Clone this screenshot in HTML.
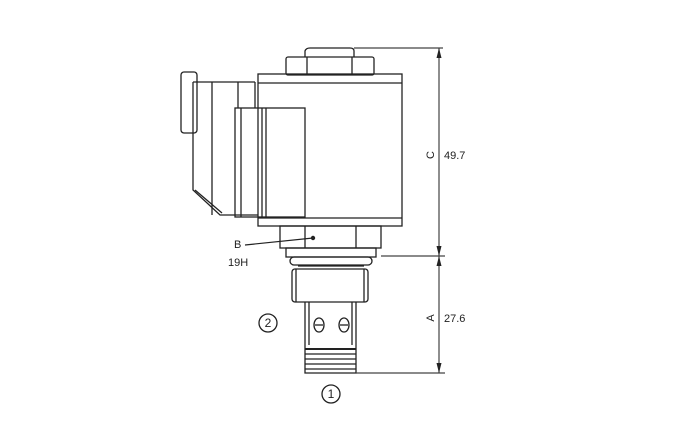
<!DOCTYPE html>
<html><head><style>
html,body{margin:0;padding:0;background:#fff}
svg{display:block}
text{font-family:"Liberation Sans",sans-serif;fill:#222}
</style></head><body>
<svg width="680" height="430" viewBox="0 0 680 430" xmlns="http://www.w3.org/2000/svg">
<g fill="none" stroke="#222" stroke-width="1.3">
<!-- top knob -->
<path d="M305,57 L305,51 Q306,48 310,48 L350,48 Q354,48 354,51 L354,57"/>
<!-- hex nut -->
<rect x="286" y="57" width="88" height="18" rx="2"/>
<line x1="307" y1="57" x2="307" y2="75"/>
<line x1="352" y1="57" x2="352" y2="75"/>
<!-- body -->
<rect x="258" y="74" width="144" height="152"/>
<line x1="258" y1="83" x2="402" y2="83"/>
<line x1="258" y1="218" x2="402" y2="218"/>
<!-- connector tab -->
<rect x="181" y="72" width="16" height="61" rx="3"/>
<!-- connector -->
<path d="M193,82 L255,82 M193,82 L193,190 L220,215 L258,215"/>
<path d="M195,190 L222,213"/>
<line x1="212" y1="82" x2="212" y2="215"/>
<line x1="238" y1="82" x2="238" y2="108"/>
<line x1="255" y1="82" x2="255" y2="108"/>
<rect x="235" y="108" width="70" height="109"/>
<line x1="241" y1="108" x2="241" y2="217"/>
<line x1="262" y1="108" x2="262" y2="217"/>
<line x1="266" y1="108" x2="266" y2="217"/>
<!-- lower nut -->
<rect x="280" y="226" width="101" height="22"/>
<line x1="305" y1="226" x2="305" y2="248"/>
<line x1="356" y1="226" x2="356" y2="248"/>
<rect x="286" y="248" width="90" height="9"/>
<rect x="290" y="257" width="82" height="8" rx="4"/>
<line x1="298" y1="266" x2="364" y2="266"/>
<!-- hex 2 -->
<rect x="292" y="269" width="76" height="33" rx="3"/>
<line x1="296" y1="269" x2="296" y2="302"/>
<line x1="364" y1="269" x2="364" y2="302"/>
<!-- tube -->
<path d="M305,302 L305,373 L356,373 L356,302"/>
<path d="M309,302 L309,345 M352,302 L352,345"/>
<ellipse cx="319" cy="325" rx="5" ry="7"/>
<line x1="315" y1="325" x2="323" y2="325"/>
<ellipse cx="344" cy="325" rx="5" ry="7"/>
<line x1="340" y1="325" x2="348" y2="325"/>
<!-- threads -->
<line x1="305" y1="349" x2="356" y2="349" stroke-width="2"/>
<line x1="305" y1="354" x2="356" y2="354"/>
<line x1="305" y1="359" x2="356" y2="359"/>
<line x1="305" y1="364" x2="356" y2="364"/>
<line x1="305" y1="369" x2="356" y2="369"/>
<!-- circles -->
<circle cx="268" cy="323" r="9"/>
<circle cx="331" cy="394" r="9"/>
</g>
<!-- dimensions -->
<g stroke="#444" stroke-width="1.2" fill="none">
<line x1="354" y1="48" x2="443" y2="48"/>
<line x1="381" y1="256" x2="445" y2="256"/>
<line x1="356" y1="373" x2="445" y2="373"/>
<line x1="439" y1="48" x2="439" y2="373"/>
<line x1="245" y1="245" x2="313" y2="238" stroke="#222"/>
</g>
<g fill="#222">
<path d="M439,48 L436.5,58 L441.5,58Z"/>
<path d="M439,256 L436.5,246 L441.5,246Z"/>
<path d="M439,256 L436.5,266 L441.5,266Z"/>
<path d="M439,373 L436.5,363 L441.5,363Z"/>
<circle cx="313" cy="238" r="2.2"/>
</g>
<text x="444" y="159" font-size="11">49.7</text>
<text x="444" y="322" font-size="11">27.6</text>
<text x="0" y="0" font-size="11" transform="translate(434,155) rotate(-90)" text-anchor="middle">C</text>
<text x="0" y="0" font-size="11" transform="translate(434,318) rotate(-90)" text-anchor="middle">A</text>
<text x="234" y="248" font-size="11" font-family="Liberation Serif">B</text>
<text x="228" y="266" font-size="11">19H</text>
<text x="268" y="327" font-size="12" text-anchor="middle">2</text>
<text x="331" y="398" font-size="12" text-anchor="middle">1</text>
</svg>
</body></html>
